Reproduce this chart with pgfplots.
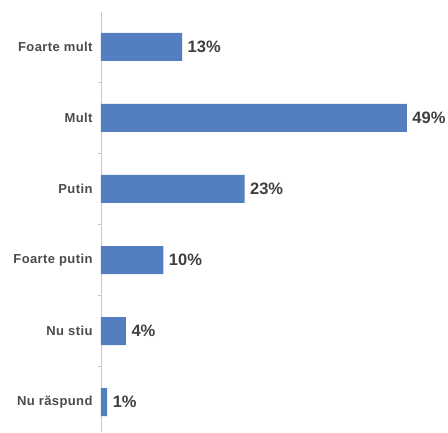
\documentclass[border=0pt]{standalone}
\usepackage{pgfplots}
\pgfplotsset{compat=1.18}
\usepackage{fontspec}
\setmainfont{Liberation Sans}
\newfontfamily\catfont[LetterSpace=3]{Liberation Sans}
\definecolor{barblue}{HTML}{537EBF}
\definecolor{txtgrey}{HTML}{3F3F3F}
\definecolor{catgrey}{HTML}{4A4A4A}
\definecolor{axgrey}{HTML}{C8C8C8}
\begin{document}
\begin{tikzpicture}
\path[use as bounding box] (0,0) rectangle (448pt,432pt);
\begin{axis}[
  at={(101pt,0pt)}, anchor=south west,
  scale only axis, width=329pt, height=420pt,
  xmin=0, xmax=52.7,
  ymin=-0.42, ymax=5.49,
  axis x line=none,
  axis y line=left,
  y axis line style={draw=axgrey, line width=0.8pt, -},
  ytick={0,1,2,3,4,5},
  yticklabels={Nu răspund, Nu stiu, Foarte putin, Putin, Mult, Foarte mult},
  yticklabel style={font=\catfont\bfseries\fontsize{13}{14}\selectfont, text=catgrey, xshift=-5pt},
  major tick length=0pt,
  minor ytick={0.5,1.5,2.5,3.5,4.5},
  minor tick length=3pt,
  tick align=outside,
  minor tick style={draw=axgrey, line width=0.6pt},
  xbar, bar width=28pt,
  /pgf/number format/assume math mode=true,
  nodes near coords={\pgfmathprintnumber{\pgfplotspointmeta}\%},
  nodes near coords style={font=\bfseries\fontsize{16.5}{18}\selectfont, text=txtgrey, anchor=west, xshift=2pt},
  point meta=explicit,
]
\addplot[fill=barblue, draw=none] coordinates {
  (13,5) [13]
  (49,4) [49]
  (23,3) [23]
  (10,2) [10]
  (4,1) [4]
  (1,0) [1]
};
\end{axis}
\end{tikzpicture}
\end{document}
